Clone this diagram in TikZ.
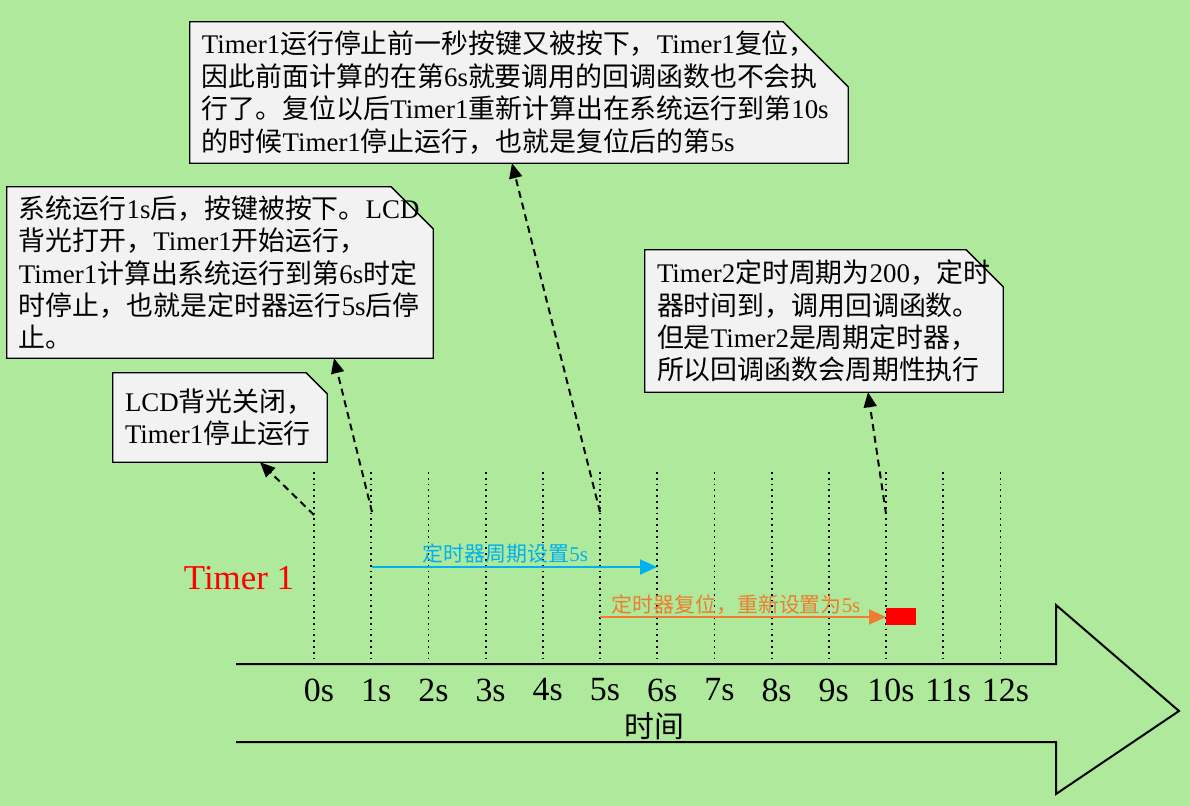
\documentclass[tikz,border=0pt]{standalone}
\usepackage{fontspec}
\setmainfont{Noto Sans CJK SC}
\newfontfamily\latinfont{Liberation Serif}
\usetikzlibrary{arrows.meta}
\newcommand\latn[1]{{\latinfont #1}}
\definecolor{bggreen}{RGB}{175,233,155}
\definecolor{notegray}{RGB}{242,242,242}
\definecolor{periodblue}{RGB}{0,176,240}
\definecolor{resetorange}{RGB}{237,125,49}
\pgfdeclarelayer{back}
\pgfsetlayers{back,main}

\begin{document}
\begin{tikzpicture}[x=1bp,y=-1bp]
        \tikzstyle{note} = [inner xsep=12bp, inner ysep=0pt, align=left, font=\fontsize{27}{32.5}\selectfont]
        \tikzstyle{notebox} = [draw=black, fill=notegray, line width=1.3bp]
        \tikzstyle{callout} = [black, line width=2bp, dash pattern=on 7bp off 5bp, -{Triangle[length=15bp,width=13bp]}]
        \tikzstyle{tick} = [black, line width=1.8bp, dash pattern=on 1.8bp off 4bp]
        \tikzstyle{sec} = [font=\latinfont\fontsize{34}{34}\selectfont, inner sep=0pt]
        \tikzstyle{period} = [line width=2bp, -{Triangle[length=17bp,width=15bp]}]
        \tikzstyle{periodlabel} = [font=\fontsize{21}{21}\selectfont, inner sep=1bp]

        \useasboundingbox (0,0) rectangle (1190,806);

        % callout boxes
        \node[note, text width=634bp, minimum height=141bp] (boxA) at (519,92.5)
          {\latn{Timer1}运行停止前一秒按键又被按下，\latn{Timer1}复位，\\
           因此前面计算的在第\latn{6s}就要调用的回调函数也不会执\\
           行了。复位以后\latn{Timer1}重新计算出在系统运行到第\latn{10s}\\
           的时候\latn{Timer1}停止运行，也就是复位后的第\latn{5s}};
        \node[note, text width=402bp, minimum height=171bp] (boxB) at (220,272.5)
          {系统运行\latn{1s}后，按键被按下。\latn{LCD}\\
           背光打开，\latn{Timer1}开始运行，\\
           \latn{Timer1}计算出系统运行到第\latn{6s}时定\\
           时停止，也就是定时器运行\latn{5s}后停\\
           止。};
        \node[note, text width=190bp, minimum height=89bp] (boxC) at (220,417.5)
          {\latn{LCD}背光关闭，\\
           \latn{Timer1}停止运行};
        \node[note, text width=334bp, minimum height=142bp] (boxD) at (824,321)
          {\latn{Timer2}定时周期为\latn{200}，定时\\
           器时间到，调用回调函数。\\
           但是\latn{Timer2}是周期定时器，\\
           所以回调函数会周期性执行};

        \begin{pgfonlayer}{back}
          \fill[bggreen] (0,0) rectangle (1190,806);
          \foreach \b/\c in {boxA/65bp, boxB/42bp, boxC/21bp, boxD/37bp}
            \draw[notebox] (\b.south west) -- (\b.north west) -- ([xshift=-\c]\b.north east)
              -- ([yshift=-\c]\b.north east) -- (\b.south east) -- cycle;
        \end{pgfonlayer}

        % time axis
        \draw[line width=2bp] (236,664) -- (1056,664) -- (1056,605) -- (1179,711)
          -- (1056,794) -- (1056,742) -- (236,742);
        \foreach \i in {0,...,12} {
          \coordinate (top\i) at (314+57.2*\i,472);
          \coordinate (bot\i) at (314+57.2*\i,664);
          \draw[tick] (top\i) -- (bot\i);
          \node[sec] (s\i) at (319+57.2*\i,690) {\i s};
        }
        \node[font=\fontsize{30}{30}\selectfont, inner sep=0pt] (axis) at (654,726) {时间};
        \node[red, font=\latinfont\fontsize{35}{35}\selectfont, inner sep=0pt] (timer) at (239,578) {Timer 1};

        % timer 1 periods
        \coordinate (p1) at (372,567);
        \coordinate (p6) at (657,567);
        \coordinate (r5) at (600,617);
        \coordinate (r10) at (886,617);
        \draw[period, periodblue] (p1) -- node[periodlabel, above, xshift=-9bp, yshift=2bp] (setlabel) {定时器周期设置\latn{5s}} (p6);
        \draw[period, resetorange] (r5) -- node[periodlabel, above, xshift=-7bp, yshift=0bp] (resetlabel) {定时器复位，重新设置为\latn{5s}} (r10);
        \node[fill=red, minimum width=30bp, minimum height=17bp, inner sep=0pt, anchor=west] (stop) at (886,616.5) {};

        % callout connectors
        \coordinate (c0) at (314,515);
        \coordinate (c1) at (372,512);
        \coordinate (c5) at (600,512);
        \coordinate (c10) at (886,514);
        \draw[callout] (c0) -- ([xshift=40bp]boxC.south);
        \draw[callout] (c1) -- ([xshift=114bp]boxB.south);
        \draw[callout] (c5) -- ([xshift=-7bp]boxA.south);
        \draw[callout] (c10) -- ([xshift=44bp]boxD.south);
\end{tikzpicture}
\end{document}
